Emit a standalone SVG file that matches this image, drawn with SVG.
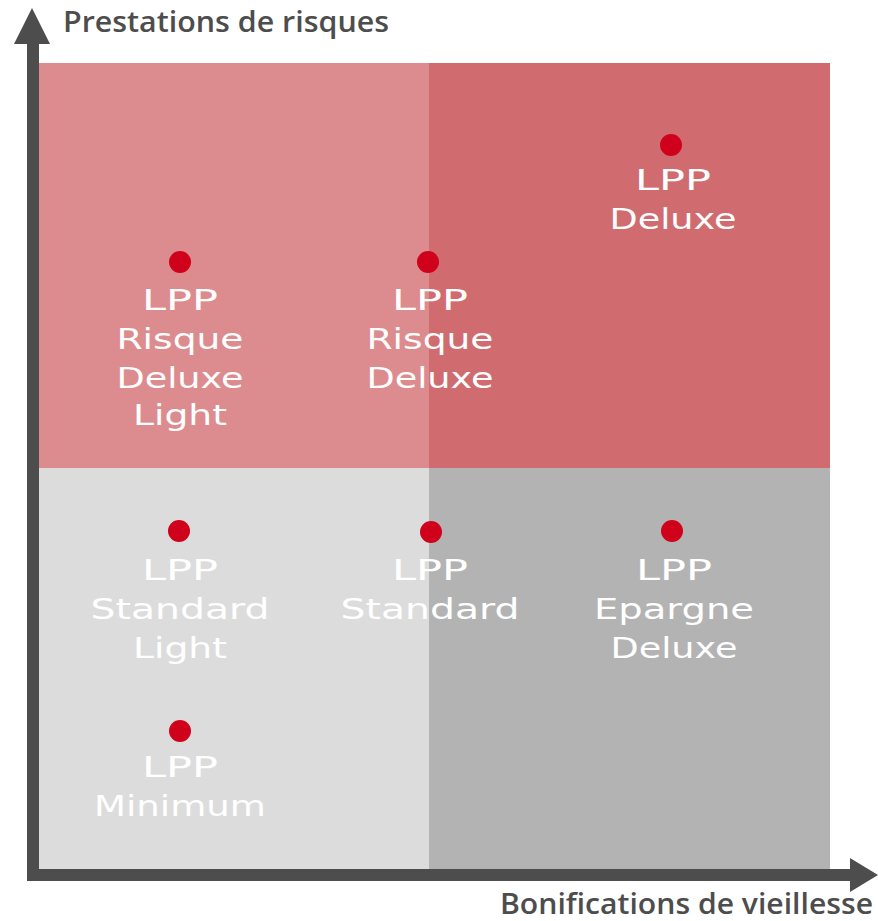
<svg xmlns="http://www.w3.org/2000/svg" width="878" height="921" viewBox="0 0 878 921">
<style>
.lbl{font-family:"DejaVu Sans","Liberation Sans",sans-serif;font-size:28px;fill:#ffffff;text-anchor:middle}
.ax{font-family:"Open Sans","Liberation Sans",sans-serif;font-weight:600;font-size:29px;fill:#4d4d4d}
.dot{fill:#d0021b}
</style>
<rect width="878" height="921" fill="#ffffff"/>
<g id="quadrants">
<rect x="39" y="63" width="390" height="405" fill="#dc8c8e"/>
<rect x="429" y="63" width="401" height="405" fill="#d06c6f"/>
<rect x="39" y="468" width="390" height="401" fill="#dcdcdc"/>
<rect x="429" y="468" width="401" height="401" fill="#b3b3b3"/>
</g>
<g id="axes">
<rect x="27" y="40" width="12" height="841" fill="#4d4d4d"/>
<polygon points="32,8 50,44 14,44" fill="#4d4d4d"/>
<rect x="27" y="869" width="826" height="12" fill="#4d4d4d"/>
<polygon points="878,875 850,892 850,858" fill="#4d4d4d"/>
<text class="ax" x="63" y="32" textLength="326" lengthAdjust="spacingAndGlyphs">Prestations de risques</text>
<text class="ax" x="500" y="914" textLength="373" lengthAdjust="spacingAndGlyphs">Bonifications de vieillesse</text>
</g>
<g id="lpp-risque-deluxe-light">
<circle class="dot" cx="180" cy="262" r="11"/>
<text class="lbl" x="180" y="310" textLength="76" lengthAdjust="spacingAndGlyphs">LPP</text>
<text class="lbl" x="180" y="349" textLength="127" lengthAdjust="spacingAndGlyphs">Risque</text>
<text class="lbl" x="180" y="388" textLength="127" lengthAdjust="spacingAndGlyphs">Deluxe</text>
<text class="lbl" x="180" y="425" textLength="94" lengthAdjust="spacingAndGlyphs">Light</text>
</g>
<g id="lpp-risque-deluxe">
<circle class="dot" cx="428" cy="262" r="11"/>
<text class="lbl" x="430" y="310" textLength="76" lengthAdjust="spacingAndGlyphs">LPP</text>
<text class="lbl" x="430" y="349" textLength="127" lengthAdjust="spacingAndGlyphs">Risque</text>
<text class="lbl" x="430" y="388" textLength="127" lengthAdjust="spacingAndGlyphs">Deluxe</text>
</g>
<g id="lpp-deluxe">
<circle class="dot" cx="671" cy="145" r="11"/>
<text class="lbl" x="673" y="190" textLength="76" lengthAdjust="spacingAndGlyphs">LPP</text>
<text class="lbl" x="673" y="229" textLength="127" lengthAdjust="spacingAndGlyphs">Deluxe</text>
</g>
<g id="lpp-standard-light">
<circle class="dot" cx="179" cy="531" r="11"/>
<text class="lbl" x="180" y="580" textLength="76" lengthAdjust="spacingAndGlyphs">LPP</text>
<text class="lbl" x="180" y="619" textLength="179" lengthAdjust="spacingAndGlyphs">Standard</text>
<text class="lbl" x="180" y="658" textLength="94" lengthAdjust="spacingAndGlyphs">Light</text>
</g>
<g id="lpp-standard">
<circle class="dot" cx="431" cy="532" r="11"/>
<text class="lbl" x="430" y="580" textLength="76" lengthAdjust="spacingAndGlyphs">LPP</text>
<text class="lbl" x="430" y="619" textLength="179" lengthAdjust="spacingAndGlyphs">Standard</text>
</g>
<g id="lpp-epargne-deluxe">
<circle class="dot" cx="672" cy="531" r="11"/>
<text class="lbl" x="674" y="580" textLength="76" lengthAdjust="spacingAndGlyphs">LPP</text>
<text class="lbl" x="674" y="619" textLength="160" lengthAdjust="spacingAndGlyphs">Epargne</text>
<text class="lbl" x="674" y="658" textLength="127" lengthAdjust="spacingAndGlyphs">Deluxe</text>
</g>
<g id="lpp-minimum">
<circle class="dot" cx="180" cy="731" r="11"/>
<text class="lbl" x="180" y="777" textLength="76" lengthAdjust="spacingAndGlyphs">LPP</text>
<text class="lbl" x="180" y="816" textLength="172" lengthAdjust="spacingAndGlyphs">Minimum</text>
</g>
</svg>
